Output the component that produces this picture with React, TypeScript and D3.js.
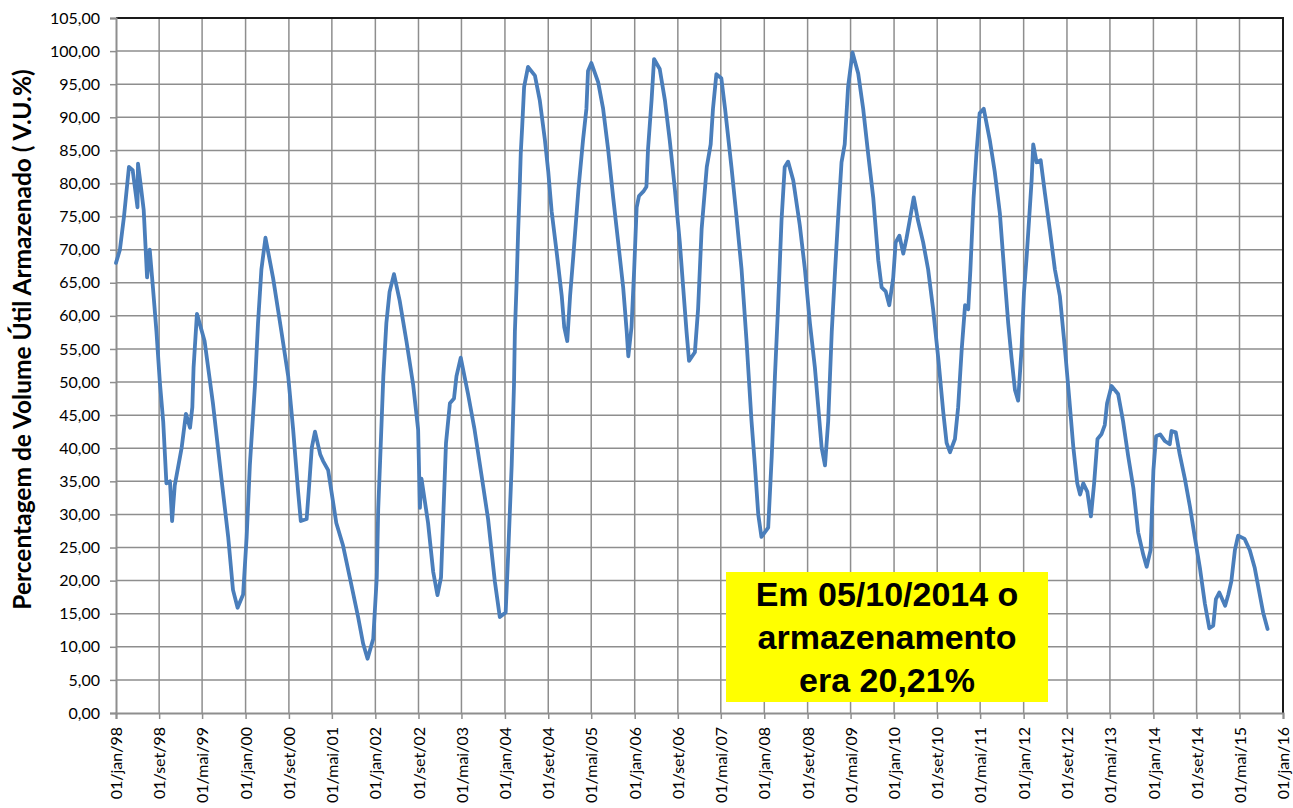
import * as d3 from "d3";
import { useEffect, useRef } from "react";

// leituras diárias aproximadas (V.U.%) tiradas do gráfico
const dates = [
  "1998-01-01", "1998-01-23", "1998-02-15", "1998-03-15", "1998-04-05", "1998-05-02", "1998-05-05",
  "1998-05-20", "1998-06-06", "1998-06-25", "1998-07-10", "1998-07-28", "1998-08-17", "1998-09-05",
  "1998-09-24", "1998-10-12", "1998-11-01", "1998-11-13", "1998-11-28", "1999-01-06", "1999-01-30",
  "1999-02-22", "1999-03-07", "1999-03-14", "1999-04-02", "1999-05-15", "1999-07-01", "1999-08-18",
  "1999-09-25", "1999-10-22", "1999-11-17", "1999-12-18", "2000-01-07", "2000-01-25", "2000-02-23",
  "2000-03-11", "2000-03-30", "2000-04-22", "2000-06-04", "2000-07-21", "2000-08-28", "2000-09-25",
  "2000-10-23", "2000-11-07", "2000-12-10", "2000-12-23", "2001-01-08", "2001-01-26", "2001-02-24",
  "2001-03-12", "2001-04-10", "2001-05-26", "2001-07-03", "2001-08-10", "2001-09-26", "2001-10-24",
  "2001-11-18", "2001-12-20", "2002-01-09", "2002-01-17", "2002-01-27", "2002-02-15", "2002-03-04",
  "2002-03-22", "2002-04-16", "2002-05-18", "2002-06-25", "2002-08-02", "2002-08-30", "2002-09-09",
  "2002-09-18", "2002-10-25", "2002-11-23", "2002-12-17", "2003-01-06", "2003-01-18", "2003-02-03",
  "2003-02-25", "2003-03-20", "2003-04-03", "2003-04-27", "2003-06-07", "2003-07-14", "2003-08-21",
  "2003-09-28", "2003-11-05", "2003-12-03", "2004-01-05", "2004-01-19", "2004-02-08", "2004-02-21",
  "2004-02-26", "2004-03-06", "2004-03-15", "2004-03-24", "2004-03-30", "2004-04-07", "2004-04-18",
  "2004-05-10", "2004-06-18", "2004-07-15", "2004-08-13", "2004-09-01", "2004-09-20", "2004-10-18",
  "2004-11-16", "2004-11-30", "2004-12-17", "2005-01-02", "2005-01-20", "2005-02-18", "2005-03-16",
  "2005-04-04", "2005-04-13", "2005-05-02", "2005-06-09", "2005-07-07", "2005-08-04", "2005-09-02",
  "2005-09-30", "2005-10-28", "2005-11-17", "2005-11-26", "2005-12-14", "2005-12-29", "2006-01-12",
  "2006-01-25", "2006-02-19", "2006-03-08", "2006-03-17", "2006-04-06", "2006-04-20", "2006-05-22",
  "2006-06-20", "2006-07-17", "2006-08-15", "2006-09-12", "2006-10-01", "2006-10-20", "2006-11-03",
  "2006-12-06", "2006-12-24", "2007-01-13", "2007-02-11", "2007-03-05", "2007-03-18", "2007-04-06",
  "2007-05-04", "2007-05-25", "2007-06-30", "2007-07-28", "2007-08-26", "2007-09-23", "2007-10-21",
  "2007-11-09", "2007-11-28", "2007-12-16", "2008-01-23", "2008-02-12", "2008-03-01", "2008-03-18",
  "2008-04-07", "2008-04-25", "2008-05-14", "2008-06-12", "2008-07-19", "2008-08-17", "2008-09-14",
  "2008-10-12", "2008-10-31", "2008-11-19", "2008-12-08", "2008-12-26", "2009-01-15", "2009-02-03",
  "2009-02-22", "2009-03-11", "2009-03-29", "2009-04-17", "2009-05-12", "2009-06-13", "2009-07-11",
  "2009-08-08", "2009-09-06", "2009-10-04", "2009-10-23", "2009-11-15", "2009-12-05", "2009-12-27",
  "2010-01-10", "2010-01-31", "2010-02-22", "2010-03-12", "2010-03-30", "2010-04-22", "2010-05-16",
  "2010-06-14", "2010-07-12", "2010-08-09", "2010-09-07", "2010-10-05", "2010-10-24", "2010-11-12",
  "2010-12-10", "2010-12-28", "2011-01-17", "2011-02-05", "2011-02-23", "2011-03-07", "2011-03-25",
  "2011-04-10", "2011-04-28", "2011-05-21", "2011-06-24", "2011-07-22", "2011-08-20", "2011-09-17",
  "2011-10-06", "2011-10-25", "2011-11-13", "2011-12-01", "2011-12-20", "2012-01-03", "2012-01-18",
  "2012-02-02", "2012-02-15", "2012-02-24", "2012-03-14", "2012-04-06", "2012-04-30", "2012-05-27",
  "2012-06-25", "2012-07-23", "2012-08-21", "2012-09-14", "2012-10-07", "2012-10-29", "2012-11-14",
  "2012-12-02", "2012-12-25", "2013-01-14", "2013-02-01", "2013-02-20", "2013-03-14", "2013-04-02",
  "2013-04-15", "2013-05-10", "2013-06-16", "2013-07-14", "2013-08-12", "2013-09-10", "2013-10-07",
  "2013-11-05", "2013-11-24", "2013-12-16", "2014-01-01", "2014-01-16", "2014-02-08", "2014-03-06",
  "2014-04-03", "2014-04-13", "2014-05-07", "2014-05-29", "2014-06-27", "2014-07-25", "2014-08-22",
  "2014-09-20", "2014-10-18", "2014-11-12", "2014-12-04", "2014-12-19", "2015-01-07", "2015-02-09",
  "2015-02-27", "2015-03-16", "2015-04-05", "2015-04-23", "2015-05-30", "2015-06-28", "2015-07-26",
  "2015-08-23", "2015-09-11", "2015-10-06",
];

const values = [
  68.0, 70.0, 75.0, 82.5, 82.0, 76.4, 83.0,
  79.8, 76.0, 65.8, 70.0, 64.3, 57.6, 50.0,
  44.0, 34.7, 35.0, 29.0, 34.4, 40.1, 45.2,
  43.1, 46.2, 52.2, 60.3, 56.2, 46.8, 35.4,
  26.6, 18.6, 15.9, 17.9, 26.6, 37.4, 49.6,
  58.9, 67.0, 71.8, 65.7, 57.6, 50.9, 42.8,
  33.4, 29.0, 29.3, 34.0, 40.1, 42.5, 39.1,
  38.1, 36.7, 28.7, 25.3, 20.5, 14.5, 10.5,
  8.2, 11.2, 20.5, 30.7, 37.5, 50.9, 58.9,
  63.6, 66.3, 62.3, 56.2, 49.6, 42.8, 31.0,
  35.4, 28.7, 21.3, 17.8, 20.5, 29.3, 40.8,
  46.8, 47.5, 50.9, 53.7, 48.2, 42.8, 36.1,
  29.3, 19.9, 14.5, 15.2, 23.9, 37.4, 49.6,
  57.6, 64.3, 72.4, 79.2, 84.5, 88.5, 94.6,
  97.6, 96.3, 92.6, 86.6, 81.8, 75.8, 69.7,
  63.0, 58.3, 56.2, 63.0, 69.0, 79.1, 86.6,
  91.3, 97.0, 98.2, 95.3, 91.3, 85.2, 77.8,
  71.1, 64.3, 57.6, 53.9, 58.3, 67.0, 76.4,
  78.1, 78.8, 79.5, 85.2, 92.6, 98.8, 97.3,
  92.6, 86.6, 79.2, 71.1, 64.3, 57.6, 53.2,
  54.5, 61.0, 73.1, 82.5, 85.9, 91.3, 96.5,
  95.9, 91.3, 82.5, 75.1, 67.0, 56.2, 44.1,
  37.4, 30.0, 26.6, 28.0, 38.8, 50.9, 61.0,
  74.4, 82.5, 83.3, 80.5, 73.7, 67.0, 58.9,
  52.2, 46.2, 40.1, 37.4, 44.1, 57.6, 67.0,
  75.8, 83.2, 85.9, 94.6, 99.8, 96.6, 91.3,
  84.5, 77.8, 68.4, 64.3, 63.7, 61.6, 65.7,
  71.1, 72.1, 69.4, 71.7, 74.4, 77.9, 74.4,
  71.1, 67.0, 61.0, 53.6, 45.5, 40.8, 39.4,
  41.4, 46.2, 54.9, 61.6, 61.0, 67.0, 77.8,
  84.5, 90.6, 91.3, 86.6, 81.8, 75.5, 65.5,
  58.9, 53.6, 48.8, 47.2, 54.9, 63.6, 69.0,
  75.1, 80.5, 85.9, 83.2, 83.5, 78.5, 73.1,
  67.0, 63.0, 54.9, 47.5, 40.1, 34.7, 33.0,
  34.7, 33.4, 29.7, 34.7, 41.4, 42.1, 43.5,
  46.8, 49.4, 48.2, 44.1, 38.8, 34.0, 27.3,
  23.9, 22.1, 24.6, 36.7, 41.8, 42.1, 41.1,
  40.6, 42.6, 42.4, 39.1, 35.4, 31.3, 26.6,
  21.9, 16.5, 12.8, 13.2, 17.2, 18.2, 16.2,
  17.9, 19.9, 24.6, 26.8, 26.3, 24.6, 21.9,
  17.9, 15.2, 12.7,
];

const yTicks = d3.range(0, 106, 5);
const xStart = "1998-01-01";
const xEnd = "2016-01-01";
const shortMonths = ["jan", "fev", "mar", "abr", "mai", "jun", "jul", "ago", "set", "out", "nov", "dez"];
const noteLines = ["Em 05/10/2014 o", "armazenamento", "era 20,21%"];
const yTitle = "Percentagem de Volume Útil Armazenado ( V.U.%)";

export default function App() {
  const width = 1293;
  const height = 808;
  const left = 116;
  const right = 1283;
  const top = 18;
  const bottom = 713;
  const ref = useRef<SVGSVGElement>(null);

  useEffect(() => {
    const svg = d3.select(ref.current);
    svg.selectAll("*").remove();

    const parse = d3.timeParse("%Y-%m-%d");
    const data = dates.map((d, i) => ({ date: parse(d) as Date, value: values[i] }));

    const x = d3.scaleTime().domain([parse(xStart) as Date, parse(xEnd) as Date]).range([left, right]);
    const y = d3.scaleLinear().domain([0, 105]).range([bottom, top]);

    // eixo de datas: um tick a cada 8 meses
    const xTicks = d3.range(28).map((i) => d3.timeMonth.offset(x.domain()[0], i * 8));

    const numFmt = d3.formatLocale({ decimal: ",", thousands: ".", grouping: [3], currency: ["R$", ""] }).format(".2f");
    const timeFmt = d3
      .timeFormatLocale({
        dateTime: "%d/%m/%Y %H:%M:%S",
        date: "%d/%m/%Y",
        time: "%H:%M:%S",
        periods: ["AM", "PM"],
        days: ["domingo", "segunda", "terça", "quarta", "quinta", "sexta", "sábado"],
        shortDays: ["dom", "seg", "ter", "qua", "qui", "sex", "sáb"],
        months: ["janeiro", "fevereiro", "março", "abril", "maio", "junho", "julho", "agosto", "setembro", "outubro", "novembro", "dezembro"],
        shortMonths,
      })
      .format("%d/%b/%y");

    // grid
    const grid = svg.append("g").attr("stroke", "#8e8e8e").attr("stroke-width", 1.5);
    grid
      .selectAll("line.h")
      .data(yTicks.slice(1))
      .join("line")
      .attr("x1", left)
      .attr("x2", right)
      .attr("y1", (d) => y(d))
      .attr("y2", (d) => y(d));
    grid
      .selectAll("line.v")
      .data(xTicks.slice(1))
      .join("line")
      .attr("x1", (d) => x(d))
      .attr("x2", (d) => x(d))
      .attr("y1", top)
      .attr("y2", bottom);

    // top/right frame
    svg
      .append("path")
      .attr("d", `M${left},${top}H${right}V${bottom}`)
      .attr("fill", "none")
      .attr("stroke", "#1a1a1a")
      .attr("stroke-width", 2);

    // axes
    const yAxis = svg
      .append("g")
      .attr("transform", `translate(${left},0)`)
      .call(d3.axisLeft(y).tickValues(yTicks).tickSize(6).tickPadding(10).tickFormat((d) => numFmt(d as number)));
    const xAxis = svg
      .append("g")
      .attr("transform", `translate(0,${bottom})`)
      .call(d3.axisBottom(x).tickValues(xTicks).tickSize(6).tickFormat((d) => timeFmt(d as Date)));

    for (const ax of [yAxis, xAxis]) {
      ax.select(".domain").attr("stroke", "#8e8e8e").attr("stroke-width", 2);
      ax.selectAll(".tick line").attr("stroke", "#8e8e8e").attr("stroke-width", 1.5);
      ax.selectAll("text").attr("font-family", "Lato, sans-serif").attr("font-size", 16).attr("fill", "#000");
    }
    xAxis
      .selectAll("text")
      .attr("transform", "rotate(-90)")
      .attr("text-anchor", "end")
      .attr("x", -14)
      .attr("y", 0)
      .attr("dy", "0.35em");

    // series
    const line = d3
      .line<{ date: Date; value: number }>()
      .x((d) => x(d.date))
      .y((d) => y(d.value));
    svg
      .append("path")
      .datum(data)
      .attr("fill", "none")
      .attr("stroke", "#4a7ebb")
      .attr("stroke-width", 3.8)
      .attr("stroke-linejoin", "round")
      .attr("stroke-linecap", "round")
      .attr("d", line);

    // y title
    svg
      .append("text")
      .attr("transform", `translate(31,${(top + bottom) / 2 - 26}) rotate(-90)`)
      .attr("text-anchor", "middle")
      .attr("font-family", "Lato, sans-serif")
      .attr("font-weight", "bold")
      .attr("font-size", 24.5)
      .text(yTitle);

    // note box
    const note = svg.append("g");
    note.append("rect").attr("x", 726).attr("y", 572).attr("width", 322).attr("height", 130).attr("fill", "#ffff00");
    note
      .selectAll("text")
      .data(noteLines)
      .join("text")
      .attr("x", 887)
      .attr("y", (d, i) => 606 + i * 43)
      .attr("text-anchor", "middle")
      .attr("font-family", "'Liberation Sans', Arial, sans-serif")
      .attr("font-weight", "bold")
      .attr("font-size", 34)
      .attr("fill", "#000")
      .text((d) => d);
  }, []);

  return (
    <div style={{ position: "absolute", left: 0, top: 0 }}>
      <svg ref={ref} width={width} height={height} style={{ display: "block", background: "#fff" }}></svg>
    </div>
  );
}
